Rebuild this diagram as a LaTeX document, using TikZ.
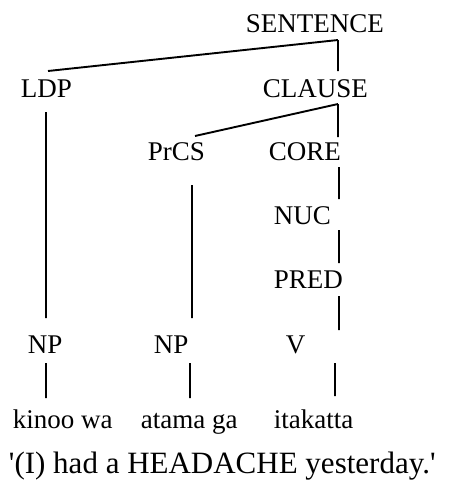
\documentclass[tikz,border=0pt]{standalone}
\usepackage{fontspec}
\setmainfont{Liberation Serif}
\usepackage{tikz}

\begin{document}
\begin{tikzpicture}[
                        x=1pt,
                        y=-1pt,
                        line width=1.9pt,
                        line cap=butt
                    ]
                    \tikzstyle{lbl}=[anchor=base west,inner sep=0pt,font=\fontsize{27}{32}\selectfont]
                    \tikzstyle{glosslbl}=[lbl,font=\fontsize{31}{36}\selectfont]

                    \useasboundingbox (0,0) rectangle (449,482);

                    % labels of the tree
                    \node[lbl] (sentence) at (245,32)  {SENTENCE} ;
                    \node[lbl] (ldp)      at (20,97)   {LDP} ;
                    \node[lbl] (clause)   at (262,97)  {CLAUSE} ;
                    \node[lbl] (prcs)     at (147,160) {PrCS} ;
                    \node[lbl] (core)     at (268,160) {CORE} ;
                    \node[lbl] (nuc)      at (273,224) {NUC} ;
                    \node[lbl] (pred)     at (273,288) {PRED} ;
                    \node[lbl] (np1)      at (27,353)  {NP} ;
                    \node[lbl] (np2)      at (153,353) {NP} ;
                    \node[lbl] (v)        at (285,353) {V} ;

                    % words and gloss
                    \node[lbl] (kinoo)    at (12,428)  {kinoo wa} ;
                    \node[lbl] (atama)    at (140,428) {atama ga} ;
                    \node[lbl] (itakatta) at (273,428) {itakatta} ;
                    \node[glosslbl] (gloss) at (8,473)
                        {\textquotesingle(I) had a HEADACHE yesterday.\textquotesingle} ;

                    % branch ends
                    \coordinate (sentence-foot) at (338,40) ;
                    \coordinate (ldp-top)       at (48,71) ;
                    \coordinate (clause-top)    at (338,71) ;
                    \coordinate (clause-foot)   at (338,104) ;
                    \coordinate (prcs-top)      at (195,136) ;
                    \coordinate (core-top)      at (338,137) ;
                    \coordinate (ldp-foot)      at (46,112) ;
                    \coordinate (np1-top)       at (46,318) ;
                    \coordinate (prcs-foot)     at (192,185) ;
                    \coordinate (np2-top)       at (192,318) ;
                    \coordinate (core-foot)     at (339,167) ;
                    \coordinate (nuc-top)       at (339,199) ;
                    \coordinate (nuc-foot)      at (339,230) ;
                    \coordinate (pred-top)      at (339,263) ;
                    \coordinate (pred-foot)     at (339,296) ;
                    \coordinate (v-top)         at (339,330) ;
                    \coordinate (np1-foot)      at (46,363) ;
                    \coordinate (kinoo-top)     at (46,398) ;
                    \coordinate (np2-foot)      at (190,363) ;
                    \coordinate (atama-top)     at (190,398) ;
                    \coordinate (v-foot)        at (335,363) ;
                    \coordinate (itakatta-top)  at (335,396) ;

                    \draw (sentence-foot) -- (ldp-top)
                          (sentence-foot) -- (clause-top)
                          (clause-foot)   -- (prcs-top)
                          (clause-foot)   -- (core-top)
                          (ldp-foot)      -- (np1-top)
                          (prcs-foot)     -- (np2-top)
                          (core-foot)     -- (nuc-top)
                          (nuc-foot)      -- (pred-top)
                          (pred-foot)     -- (v-top)
                          (np1-foot)      -- (kinoo-top)
                          (np2-foot)      -- (atama-top)
                          (v-foot)        -- (itakatta-top) ;

                \end{tikzpicture}
\end{document}
